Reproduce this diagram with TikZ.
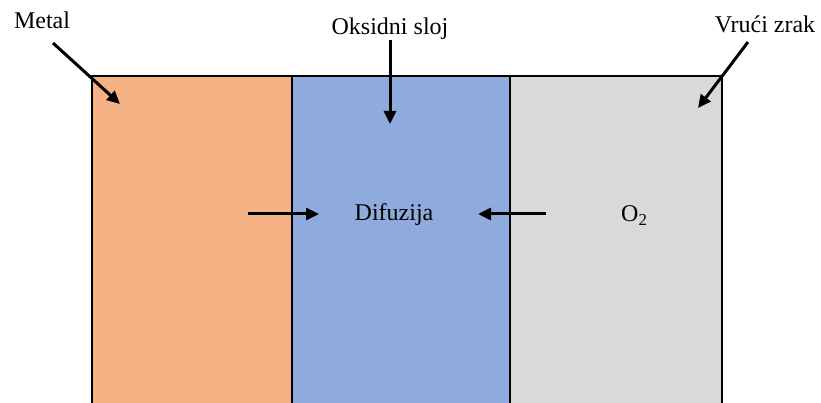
\documentclass[tikz,border=0pt]{standalone}
\usepackage{fontspec}
\setmainfont{Liberation Serif}
\usetikzlibrary{arrows.meta,positioning}
\definecolor{metalfill}{HTML}{F4B183}
\definecolor{oxidefill}{HTML}{8FAADC}
\definecolor{airfill}{HTML}{D9D9D9}

\begin{document}
\begin{tikzpicture}
          [x=1pt,y=-1pt,every node/.style={inner sep=0pt,font=\fontsize{24}{28}\selectfont},
           arr/.style={line width=3pt,-{Triangle[length=13pt,width=12pt]}}]
          \useasboundingbox (0,0) rectangle (821,403);
          % layers
          \fill[metalfill] (92,76) rectangle (292,403);
          \fill[oxidefill] (292,76) rectangle (510,403);
          \fill[airfill] (510,76) rectangle (722,403);
          \draw[line width=1.5pt] (92,403) -- (92,76) -- (722,76) -- (722,403);
          \draw[line width=1.5pt] (292,76) -- (292,403);
          \draw[line width=1.5pt] (510,76) -- (510,403);

          % labels
          \node[anchor=base] (metal) at (42,29) {Metal};
          \node[anchor=base] (oksid) at (390,35) {Oksidni sloj};
          \node[anchor=base] (zrak) at (765,33) {Vrući zrak};
          \node[anchor=base] (difuz) at (394,221) {Difuzija};
          \node[anchor=base west] (kisik) at (621,222) {O\textsubscript{2}};

          % arrow ends
          \coordinate (m1) at (53,43);   \coordinate (m2) at (120,104);
          \coordinate (o1) at (390,40);  \coordinate (o2) at (390,124);
          \coordinate (z1) at (748,42);  \coordinate (z2) at (698,108);
          \coordinate (d1) at (248,214); \coordinate (d2) at (319,214);
          \coordinate (d3) at (546,214); \coordinate (d4) at (478,214);

          \foreach \from/\to in {m1/m2,o1/o2,z1/z2,d1/d2,d3/d4}
            \draw[arr] (\from) -- (\to);
        \end{tikzpicture}
\end{document}
